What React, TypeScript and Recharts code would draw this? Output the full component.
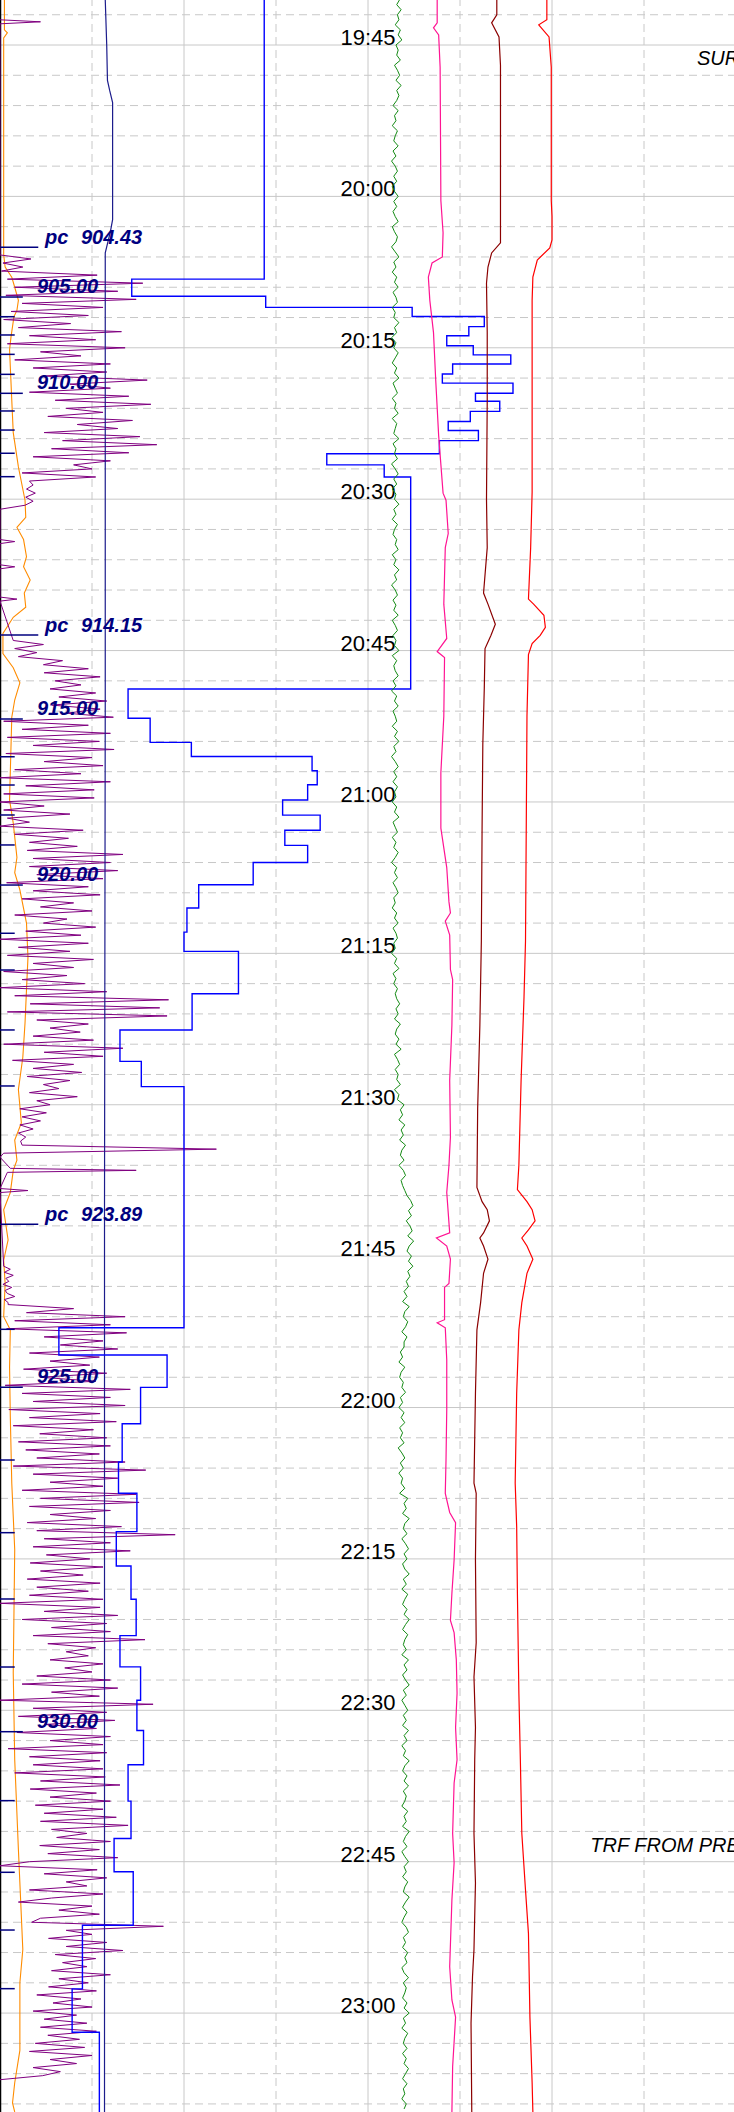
import React from 'react';
import { ComposedChart, Line, XAxis, YAxis, ReferenceLine, ReferenceDot } from 'recharts';

// Time axis: minutes after 19:00. Horizontal scale: normalised units 0..1000 across the log.
const T0 = 40.54;
const T1 = 249.8;

const majorTimes = [45, 60, 75, 90, 105, 120, 135, 150, 165, 180, 195, 210, 225, 240];
const minorTimes: number[] = [];
for (let m = 42; m <= 249; m += 3) if (m % 15 !== 0) minorTimes.push(m);
const solidX = [250, 500, 750];
const dashedX = [125, 375, 625, 875];

// Blue step curve: [start time, value]
const blueSteps: [number, number][] = [
  [40.5, 359], [68.2, 179], [69.9, 361], [71.0, 560], [71.9, 658], [72.9, 637], [73.8, 607], [74.8, 643],
  [75.7, 694], [76.6, 615], [77.6, 601], [78.5, 697], [79.5, 646], [80.3, 679], [81.3, 639], [82.3, 609],
  [83.2, 650], [84.2, 597], [85.5, 444], [86.6, 522], [87.8, 558], [108.8, 174], [111.7, 204], [114.1, 260],
  [115.5, 424], [116.9, 431], [118.3, 418], [119.8, 384], [121.3, 435], [122.8, 387], [124.3, 418], [126.0, 344],
  [128.2, 270], [130.5, 254], [132.9, 250], [134.8, 324], [139.0, 261], [142.6, 163], [145.7, 192], [148.2, 250],
  [172.1, 80], [174.8, 227], [178.0, 191], [181.6, 166], [185.4, 161], [188.5, 186], [192.3, 158], [195.7, 178],
  [199.0, 185], [202.6, 163], [205.7, 191], [209.0, 186], [212.0, 195], [215.4, 174], [219.0, 178], [222.7, 155],
  [226.0, 181], [231.3, 112], [237.6, 98], [241.9, 135],
];

const navy: [number, number][] = [
  [40.5, 143], [45, 145], [48.5, 146], [49.5, 149], [50.7, 153], [62.3, 153], [63.5, 150], [65.6, 143],
  [110, 143], [160, 142], [249.8, 142],
];

const orange: [number, number][] = [
  [40.5, 6], [43.5, 6], [43.8, 10], [44.3, 5], [46.5, 5], [65.8, 5], [67.0, 7], [68.0, 16], [69.0, 20],
  [70.3, 25], [71.3, 23], [71.9, 19], [72.9, 17], [73.9, 15], [75.2, 13], [80.2, 16], [83.4, 18], [86.8, 25],
  [90.1, 34], [91.8, 35], [92.8, 23], [94.0, 32], [95.7, 36], [96.7, 32], [98.0, 41], [99.3, 33], [100.7, 35],
  [101.7, 18], [103.3, 4], [105.3, 4], [106.7, 18], [108.2, 27], [109.9, 20], [111.6, 16], [119.8, 13],
  [122.1, 18], [125.5, 23], [127.0, 20], [128.7, 27], [132.0, 36], [135.4, 38], [138.6, 36], [141.9, 34],
  [145.3, 31], [146.9, 28], [148.5, 25], [151.8, 29], [153.5, 20], [155.5, 23], [156.5, 18], [158.7, 14],
  [160.4, 5], [163.4, 11], [165.4, 5], [167.7, 7], [171.0, 5], [172.3, 14], [176.0, 13], [180.9, 14],
  [187.5, 16], [194.1, 20], [206.3, 18], [214.9, 20], [223.8, 25], [233.7, 31], [237.0, 27], [243.7, 27],
  [246.9, 20], [248.9, 17], [249.8, 20],
];

const pink: [number, number][] = [
  [40.5, 594], [42.8, 594], [43.3, 589], [44.0, 596], [47.2, 598], [60.4, 599], [63.6, 602], [66.0, 601],
  [66.6, 587], [68.0, 582], [70.3, 584], [73.5, 589], [78.2, 592], [83.7, 596], [89.4, 602], [90.1, 606],
  [93.4, 609], [94.8, 605], [100.4, 603], [103.8, 607], [105.1, 594], [105.7, 604], [111.5, 603], [117.1, 599],
  [122.6, 599], [126.5, 607], [129.9, 610], [131.0, 612], [131.8, 605], [133.2, 611], [136.6, 612], [137.6, 615],
  [142.1, 614], [147.6, 611], [153.2, 612], [156.0, 610], [158.7, 607], [162.7, 611], [163.2, 593], [164.0, 607],
  [165.3, 612], [167.7, 610], [168.1, 604], [171.3, 604], [171.6, 594], [172.1, 605], [175.3, 607], [180.2, 607],
  [185.2, 606], [188.5, 605], [190.4, 611], [191.4, 619], [195.1, 617], [198.4, 614], [201.1, 612], [202.3, 617],
  [205.0, 620], [208.3, 621], [211.7, 619], [214.9, 621], [217.2, 617], [222.2, 615], [225.1, 617], [228.8, 614],
  [235.4, 611], [238.7, 614], [240.4, 619], [245.3, 615], [249.8, 614],
];

const darkRed: [number, number][] = [
  [40.5, 675], [42.0, 675], [42.8, 668], [44.2, 678], [47.0, 680], [64.6, 680], [65.6, 668], [67.0, 663],
  [68.6, 661], [73.5, 662], [80.2, 662], [90.0, 661], [94.8, 662], [99.3, 657], [100.4, 663], [102.4, 673],
  [103.5, 667], [104.8, 659], [108.7, 658], [114.3, 656], [122.7, 655], [133.8, 654], [142.1, 652], [150.4, 649],
  [158.2, 648], [159.6, 655], [160.4, 662], [161.5, 665], [162.7, 657], [163.2, 652], [164.0, 657], [165.3, 663],
  [166.7, 657], [169.6, 653], [172.3, 648], [178.6, 646], [187.5, 644], [188.5, 647], [195.1, 646], [203.3, 647],
  [206.7, 644], [211.7, 646], [214.9, 645], [222.2, 644], [227.1, 646], [233.7, 644], [236.4, 642], [241.0, 640],
  [249.8, 641],
];

const red: [number, number][] = [
  [40.5, 743], [42.5, 743], [43.0, 732], [44.2, 746], [47.2, 749], [60.4, 749], [62.0, 750], [64.3, 750],
  [65.1, 747], [66.3, 730], [68.0, 724], [70.3, 723], [89.3, 723], [94.8, 721], [99.9, 718], [100.4, 725],
  [101.5, 739], [102.7, 741], [103.5, 734], [104.3, 723], [105.4, 718], [111.5, 716], [122.7, 715], [133.8, 714],
  [139.3, 712], [147.6, 708], [156.0, 705], [158.4, 703], [159.6, 716], [160.4, 723], [161.5, 727], [162.4, 718],
  [163.2, 709], [164.0, 716], [165.3, 724], [166.7, 716], [169.6, 709], [172.3, 705], [178.6, 702], [187.5, 700],
  [191.8, 702], [198.4, 703], [208.3, 705], [214.9, 707], [222.2, 709], [227.8, 714], [232.1, 718], [240.4, 720],
  [246.9, 723], [249.8, 724],
];

// Green curve sampled every 0.5 min from 40.5
const greenStart = 40.5;
const greenStep = 0.5;
const greenVals = [
  543,539,545,540,542,537,544,541,546,538,541,539,544,536,540,543,538,545,539,542,
  539,534,541,536,538,533,540,537,535,541,534,538,532,537,540,535,539,533,536,541,
  535,539,534,537,541,533,536,540,538,532,537,542,535,538,533,539,536,541,534,538,
  540,533,537,535,542,536,539,532,538,535,541,537,533,539,536,542,534,537,540,533,
  538,536,541,533,539,537,535,542,534,538,536,540,532,537,541,535,539,533,538,536,
  542,535,538,533,540,536,534,539,537,541,533,538,535,542,536,539,532,537,540,534,
  538,535,541,533,537,540,534,538,536,542,533,539,535,537,541,534,538,532,539,536,
  541,534,537,539,533,540,536,542,535,538,532,537,541,535,539,534,540,536,538,533,
  539,536,542,534,537,540,533,538,535,541,537,532,539,536,540,534,538,541,535,537,
  533,539,536,541,534,538,540,535,537,532,539,536,542,534,538,535,540,537,539,
  543,538,541,536,544,539,537,542,538,545,536,540,543,537,541,539,544,536,542,540,
  549,544,547,542,550,545,548,543,551,546,544,549,542,548,551,545,547,550,
  553,558,561,555,559,552,557,560,554,562,556,553,559,555,561,554,557,552,
  555,549,553,547,556,550,548,554,551,546,553,549,
  549,544,547,542,550,545,543,548,546,551,544,547,542,549,545,550,543,547,544,549,541,546,550,544,548,542,547,545,550,543,
  554,549,552,547,556,550,548,553,546,551,555,549,553,547,550,556,548,552,546,554,
  550,547,553,549,556,551,547,554,550,548,552,546,555,549,553,547,551,556,548,552,
  546,550,554,548,552,547,555,549,553,546,551,548,556,550,547,553,549,555,548,552,
  550,546,554,549,552,547,556,551,548,553,546,550,555,549,552,547,554,550,548,556,
  551,547,553,549,546,552,555,548,551,547,554,550,553,546,549,555,548,552,550,547,
  553,549,556,548,551,546,554,550,548,553,547,552,549,555,551,547,553,548,550,546,
  552,549,
];

// Purple (ROP/gas-like) curve, sampled runs
const purpleA = [
  0,42,4,31,2,132,10,194,20,160,8,185,30,140,15,120,5,96,25,165,40,130,10,170,55,110,20,150,45,145,
  60,200,95,150,40,175,75,205,90,140,65,180,105,160,60,190,85,213,70,175,45,150,100,125,30,130,40,45,36,48,
  35,45,34,0,
];
const purpleC = [
  18,59,20,50,25,85,59,120,60,136, 75,110,68,130,80,145,70,136,90,154, 5,120,30,150,10,135,45,155,8,125,
  60,140,20,110,0,150,35,128,5,128, 0,60,5,95,10,40,0,113,20,93, 40,105,37,167,45,150,40,160,50,140,
  9,120,45,136,30,100,55,125,20,91, 59,130,35,110,0,120,25,95,10,127, 45,100,5,91,30,115,0,145,20,229,
  41,217,10,227,50,120,68,109,45,127, 5,167,60,140,17,100,45,111,37,95, 59,80,40,105,50,68,27,63,30,55,
  27,45,25,35,28,30,294,5,0,
];
const purpleSquiggle = [5,14,6,18,8,12,4,16,7,10,20,6,11];
const purpleD = [
  11,100,36,170,20,150,9,172,60,140, 82,160,40,135,68,122,32,145,55,130, 7,177,30,150,45,170,12,136,40,158,
  18,127,54,145,25,150,35,135,50,170, 18,198,45,160,68,140,30,185,55,189, 40,150,68,130,37,165,50,238,60,150,
  45,177,63,122,41,140,55,113,37,136, 50,120,40,140,0,136,60,160,30,145, 70,150,45,197,65,130,90,120,68,140,
  88,125,50,150,30,160,70,135,0,208, 45,145,25,156,60,131,23,150,68,140, 11,145,40,136,45,140,20,143,55,163,
  41,131,68,150,48,140,60,158,55,174, 70,118,77,150,54,135,65,160,40,0, 132,60,145,90,118,40,140,70,25,125,
  80,135,55,43,222,90,125,66,145,90, 167,75,130,85,118,70,150,80,120,66, 131,50,110,72,125,45,104,60,118,55,
  131,65,108,48,115,40,125,68,104,45, 82,58,0,
];
const purpleRuns = [
  { start: 42.5, step: 0.2, vals: [0, 55, 0], gap: true },
  { start: 65.8, step: 0.4, vals: purpleA, gap: true },
  { start: 94.0, step: 0.2, vals: [0, 20, 0], gap: true },
  { start: 96.5, step: 0.2, vals: [0, 20, 0], gap: true },
  { start: 99.7, step: 0.2, vals: [0, 23, 0], gap: true },
  { start: 104.0, step: 0.4, vals: purpleC, gap: true },
  { start: 156.3, step: 0.2, vals: [14, 185, 10], gap: true },
  { start: 158.3, step: 0.2, vals: [0, 38, 0], gap: true },
  { start: 166.0, step: 0.3, vals: purpleSquiggle, gap: false },
  { start: 169.8, step: 0.4, vals: purpleD, gap: true },
];

// Depth marks: [depth (m), time, kind]
const depthMarks: [number, number, string][] = [
  [904.43, 65.04, 'pc'], [905, 69.97, 'major'], [906, 71.92, 'minor'], [907, 73.73, 'minor'],
  [908, 75.65, 'minor'], [909, 77.63, 'minor'], [910, 79.51, 'major'], [911, 81.26, 'minor'],
  [912, 83.15, 'minor'], [913, 85.45, 'minor'], [914, 87.77, 'minor'], [914.15, 103.46, 'pc'],
  [915, 111.78, 'major'], [916, 115.52, 'minor'], [917, 118.32, 'minor'], [918, 121.29, 'minor'],
  [919, 124.26, 'minor'], [920, 128.23, 'major'], [921, 133.01, 'minor'], [922, 136.65, 'minor'],
  [923, 142.59, 'minor'], [923.5, 148.14, 'minor'], [923.89, 161.84, 'pc'], [924, 172.25, 'minor'],
  [925, 177.99, 'major'], [926, 185.2, 'minor'], [927, 192.4, 'minor'], [928, 198.97, 'minor'],
  [929, 205.71, 'minor'], [930, 212.12, 'major'], [931, 218.95, 'minor'], [932, 226.05, 'minor'],
  [933, 231.77, 'minor'], [934, 237.58, 'minor'],
];

const notes = [
  { t: 46.98, x: 947, text: 'SURVEY' },
  { t: 224.0, x: 802, text: 'TRF FROM PREV HOLE' },
];

// ---------- derived data ----------
const toData = (pairs: [number, number][]) => pairs.map(([t, v]) => ({ t, v }));
const blueData = [...toData(blueSteps), { t: T1, v: blueSteps[blueSteps.length - 1][1] }];
const greenData = greenVals.map((v, i) => ({ t: +(greenStart + i * greenStep).toFixed(3), v }));
const purpleData: { t: number; v: number | null }[] = [];
purpleRuns.forEach((r) => {
  r.vals.forEach((v, i) => purpleData.push({ t: +(r.start + i * r.step).toFixed(3), v }));
  if (r.gap) purpleData.push({ t: +(r.start + r.vals.length * r.step).toFixed(3), v: null });
});

const fmt = (m: number) => `${19 + Math.floor(m / 60)}:${String(m % 60).padStart(2, '0')}`;

const FONT = '"Liberation Sans", Arial, Helvetica, sans-serif';
const GRID = '#c8c8c8';
const NAVY = '#00007f';
const TICK_LEN: Record<string, number> = { minor: 20, major: 31, pc: 52 };

const timeLabel = (text: string) => (props: any) => {
  const vb = props.viewBox || {};
  return (
    <text x={vb.x + vb.width / 2} y={vb.y} textAnchor="middle" fontFamily={FONT} fontSize={22} fill="#000">
      {text}
    </text>
  );
};

const depthLabel = (depth: number, kind: string) => (props: any) => {
  const vb = props.viewBox || {};
  if (kind === 'minor') return null;
  const style = { fontFamily: FONT, fontSize: 20, fontWeight: 700, fontStyle: 'italic' as const };
  if (kind === 'pc') {
    return (
      <text y={vb.y - 3} fill={NAVY} style={style}>
        <tspan x={vb.x + 45}>pc</tspan>
        <tspan x={vb.x + 81}>{depth.toFixed(2)}</tspan>
      </text>
    );
  }
  return (
    <text x={vb.x + 37} y={vb.y - 4} fill={NAVY} style={style}>
      {depth.toFixed(2)}
    </text>
  );
};

const noteLabel = (text: string) => (props: any) => {
  const vb = props.viewBox || {};
  return (
    <text x={vb.x} y={vb.y} fontFamily={FONT} fontSize={20} fontStyle="italic" fill="#000">
      {text}
    </text>
  );
};

const ax = { xAxisId: 'u', yAxisId: 't' } as const;

export default function App() {
  return (
    <div style={{ position: 'absolute', left: 0, top: 0, width: 734, height: 2112, overflow: 'hidden', background: '#fff' }}>
      <ComposedChart width={736} height={2112} layout="vertical" margin={{ top: 0, right: 0, bottom: 0, left: 0 }}>
        <XAxis xAxisId="u" type="number" domain={[0, 1000]} hide allowDataOverflow />
        <YAxis yAxisId="t" type="number" dataKey="t" domain={[T0, T1]} hide allowDataOverflow />

        {minorTimes.map((m) => (
          <ReferenceLine key={'mn' + m} {...ax} y={m} stroke={GRID} strokeWidth={1} strokeDasharray="8 5" />
        ))}
        {dashedX.map((x) => (
          <ReferenceLine key={'dx' + x} {...ax} x={x} stroke={GRID} strokeWidth={1} strokeDasharray="8 5" />
        ))}
        {solidX.map((x) => (
          <ReferenceLine key={'sx' + x} {...ax} x={x} stroke={GRID} strokeWidth={1} />
        ))}
        {majorTimes.map((m) => (
          <ReferenceLine key={'mj' + m} {...ax} y={m} stroke={GRID} strokeWidth={1} label={timeLabel(fmt(m))} />
        ))}
        <ReferenceLine {...ax} x={0} stroke="#000" strokeWidth={2.5} />

        <Line {...ax} data={toData(orange)} dataKey="v" type="linear" stroke="#ff8c00" strokeWidth={1.1} dot={false} isAnimationActive={false} />
        <Line {...ax} data={purpleData} dataKey="v" type="linear" stroke="#800080" strokeWidth={1.0} dot={false} connectNulls={false} isAnimationActive={false} />
        <Line {...ax} data={toData(navy)} dataKey="v" type="linear" stroke="#1c1c8c" strokeWidth={1.2} dot={false} isAnimationActive={false} />
        <Line {...ax} data={blueData} dataKey="v" type="stepBefore" stroke="#0000ff" strokeWidth={1.4} dot={false} isAnimationActive={false} />
        <Line {...ax} data={greenData} dataKey="v" type="linear" stroke="#138a13" strokeWidth={1.0} dot={false} isAnimationActive={false} />
        <Line {...ax} data={toData(pink)} dataKey="v" type="linear" stroke="#ff1493" strokeWidth={1.2} dot={false} isAnimationActive={false} />
        <Line {...ax} data={toData(darkRed)} dataKey="v" type="linear" stroke="#8b0000" strokeWidth={1.2} dot={false} isAnimationActive={false} />
        <Line {...ax} data={toData(red)} dataKey="v" type="linear" stroke="#ff0000" strokeWidth={1.2} dot={false} isAnimationActive={false} />

        {depthMarks.map(([d, t, kind]) => (
          <ReferenceLine
            key={'dm' + d}
            {...ax}
            segment={[{ x: 0, y: t }, { x: TICK_LEN[kind], y: t }]}
            stroke={NAVY}
            strokeWidth={1.5}
            label={depthLabel(d, kind)}
          />
        ))}
        {notes.map((n) => (
          <ReferenceDot key={n.text} {...ax} x={n.x} y={n.t} r={0} fill="none" stroke="none" label={noteLabel(n.text)} />
        ))}
      </ComposedChart>
    </div>
  );
}
